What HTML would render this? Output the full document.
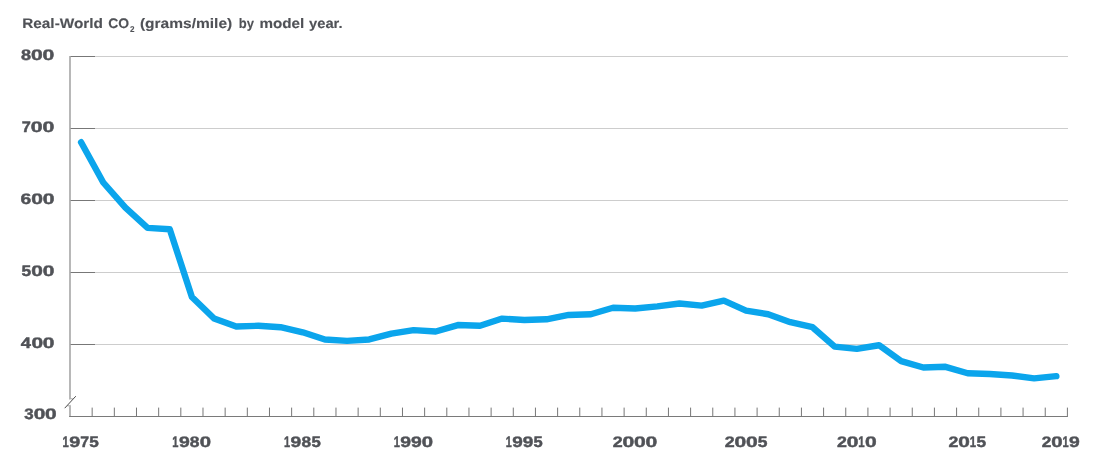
<!DOCTYPE html>
<html><head><meta charset="utf-8"><title>Real-World CO2</title>
<style>
html,body{margin:0;padding:0;background:#fff;}
body{width:1100px;height:471px;overflow:hidden;font-family:"Liberation Sans",sans-serif;}
svg{display:block;will-change:transform;}
.lab{font-family:"Liberation Sans",sans-serif;font-weight:bold;font-size:15.2px;text-rendering:geometricPrecision;fill:#505257;stroke:#505257;stroke-width:0.45;stroke-linejoin:round;}
.title{font-family:"Liberation Sans",sans-serif;font-weight:bold;font-size:13.8px;text-rendering:geometricPrecision;fill:#505257;stroke:#505257;stroke-width:0.12;}
</style></head><body>
<svg width="1100" height="471" viewBox="0 0 1100 471">
<rect width="1100" height="471" fill="#fff"/>
<text y="28" class="title"><tspan x="22.20" y="28" textLength="80.80" lengthAdjust="spacingAndGlyphs">Real-World</tspan> <tspan x="108.20" y="28" textLength="20.90" lengthAdjust="spacingAndGlyphs">CO</tspan><tspan x="129.90" y="32" style="font-size:8.4px" textLength="4.50" lengthAdjust="spacingAndGlyphs">2</tspan> <tspan x="139.90" y="28" textLength="92.30" lengthAdjust="spacingAndGlyphs">(grams/mile)</tspan> <tspan x="238.70" y="28" textLength="15.20" lengthAdjust="spacingAndGlyphs">by</tspan> <tspan x="259.40" y="28" textLength="44.80" lengthAdjust="spacingAndGlyphs">model</tspan> <tspan x="309.00" y="28" textLength="33.60" lengthAdjust="spacingAndGlyphs">year.</tspan></text>

<line x1="70.0" y1="56.5" x2="1068.0" y2="56.5" stroke="#cdcdcd" stroke-width="1"/>
<line x1="70.0" y1="56.5" x2="95.0" y2="56.5" stroke="#777" stroke-width="1"/>
<line x1="70.0" y1="128.5" x2="1068.0" y2="128.5" stroke="#cdcdcd" stroke-width="1"/>
<line x1="70.0" y1="128.5" x2="95.0" y2="128.5" stroke="#777" stroke-width="1"/>
<line x1="70.0" y1="200.5" x2="1068.0" y2="200.5" stroke="#cdcdcd" stroke-width="1"/>
<line x1="70.0" y1="200.5" x2="95.0" y2="200.5" stroke="#777" stroke-width="1"/>
<line x1="70.0" y1="272.5" x2="1068.0" y2="272.5" stroke="#cdcdcd" stroke-width="1"/>
<line x1="70.0" y1="272.5" x2="95.0" y2="272.5" stroke="#777" stroke-width="1"/>
<line x1="70.0" y1="344.5" x2="1068.0" y2="344.5" stroke="#cdcdcd" stroke-width="1"/>
<line x1="70.0" y1="344.5" x2="95.0" y2="344.5" stroke="#777" stroke-width="1"/>

<line x1="70.0" y1="56" x2="70.0" y2="417" stroke="#a6a6a6" stroke-width="1.6"/>
<line x1="69.2" y1="416.5" x2="1067.9" y2="416.5" stroke="#7a7a7a" stroke-width="1"/>
<line x1="92.16" y1="407.6" x2="92.16" y2="416.5" stroke="#777" stroke-width="1"/>
<line x1="114.33" y1="407.6" x2="114.33" y2="416.5" stroke="#777" stroke-width="1"/>
<line x1="136.49" y1="407.6" x2="136.49" y2="416.5" stroke="#777" stroke-width="1"/>
<line x1="158.66" y1="407.6" x2="158.66" y2="416.5" stroke="#777" stroke-width="1"/>
<line x1="180.82" y1="407.6" x2="180.82" y2="416.5" stroke="#777" stroke-width="1"/>
<line x1="202.99" y1="407.6" x2="202.99" y2="416.5" stroke="#777" stroke-width="1"/>
<line x1="225.15" y1="407.6" x2="225.15" y2="416.5" stroke="#777" stroke-width="1"/>
<line x1="247.32" y1="407.6" x2="247.32" y2="416.5" stroke="#777" stroke-width="1"/>
<line x1="269.48" y1="407.6" x2="269.48" y2="416.5" stroke="#777" stroke-width="1"/>
<line x1="291.64" y1="407.6" x2="291.64" y2="416.5" stroke="#777" stroke-width="1"/>
<line x1="313.81" y1="407.6" x2="313.81" y2="416.5" stroke="#777" stroke-width="1"/>
<line x1="335.97" y1="407.6" x2="335.97" y2="416.5" stroke="#777" stroke-width="1"/>
<line x1="358.14" y1="407.6" x2="358.14" y2="416.5" stroke="#777" stroke-width="1"/>
<line x1="380.30" y1="407.6" x2="380.30" y2="416.5" stroke="#777" stroke-width="1"/>
<line x1="402.47" y1="407.6" x2="402.47" y2="416.5" stroke="#777" stroke-width="1"/>
<line x1="424.63" y1="407.6" x2="424.63" y2="416.5" stroke="#777" stroke-width="1"/>
<line x1="446.80" y1="407.6" x2="446.80" y2="416.5" stroke="#777" stroke-width="1"/>
<line x1="468.96" y1="407.6" x2="468.96" y2="416.5" stroke="#777" stroke-width="1"/>
<line x1="491.12" y1="407.6" x2="491.12" y2="416.5" stroke="#777" stroke-width="1"/>
<line x1="513.29" y1="407.6" x2="513.29" y2="416.5" stroke="#777" stroke-width="1"/>
<line x1="535.45" y1="407.6" x2="535.45" y2="416.5" stroke="#777" stroke-width="1"/>
<line x1="557.62" y1="407.6" x2="557.62" y2="416.5" stroke="#777" stroke-width="1"/>
<line x1="579.78" y1="407.6" x2="579.78" y2="416.5" stroke="#777" stroke-width="1"/>
<line x1="601.95" y1="407.6" x2="601.95" y2="416.5" stroke="#777" stroke-width="1"/>
<line x1="624.11" y1="407.6" x2="624.11" y2="416.5" stroke="#777" stroke-width="1"/>
<line x1="646.28" y1="407.6" x2="646.28" y2="416.5" stroke="#777" stroke-width="1"/>
<line x1="668.44" y1="407.6" x2="668.44" y2="416.5" stroke="#777" stroke-width="1"/>
<line x1="690.60" y1="407.6" x2="690.60" y2="416.5" stroke="#777" stroke-width="1"/>
<line x1="712.77" y1="407.6" x2="712.77" y2="416.5" stroke="#777" stroke-width="1"/>
<line x1="734.93" y1="407.6" x2="734.93" y2="416.5" stroke="#777" stroke-width="1"/>
<line x1="757.10" y1="407.6" x2="757.10" y2="416.5" stroke="#777" stroke-width="1"/>
<line x1="779.26" y1="407.6" x2="779.26" y2="416.5" stroke="#777" stroke-width="1"/>
<line x1="801.43" y1="407.6" x2="801.43" y2="416.5" stroke="#777" stroke-width="1"/>
<line x1="823.59" y1="407.6" x2="823.59" y2="416.5" stroke="#777" stroke-width="1"/>
<line x1="845.76" y1="407.6" x2="845.76" y2="416.5" stroke="#777" stroke-width="1"/>
<line x1="867.92" y1="407.6" x2="867.92" y2="416.5" stroke="#777" stroke-width="1"/>
<line x1="890.08" y1="407.6" x2="890.08" y2="416.5" stroke="#777" stroke-width="1"/>
<line x1="912.25" y1="407.6" x2="912.25" y2="416.5" stroke="#777" stroke-width="1"/>
<line x1="934.41" y1="407.6" x2="934.41" y2="416.5" stroke="#777" stroke-width="1"/>
<line x1="956.58" y1="407.6" x2="956.58" y2="416.5" stroke="#777" stroke-width="1"/>
<line x1="978.74" y1="407.6" x2="978.74" y2="416.5" stroke="#777" stroke-width="1"/>
<line x1="1000.91" y1="407.6" x2="1000.91" y2="416.5" stroke="#777" stroke-width="1"/>
<line x1="1023.07" y1="407.6" x2="1023.07" y2="416.5" stroke="#777" stroke-width="1"/>
<line x1="1045.24" y1="407.6" x2="1045.24" y2="416.5" stroke="#777" stroke-width="1"/>
<line x1="1067.40" y1="407.6" x2="1067.40" y2="416.5" stroke="#777" stroke-width="1"/>

<line x1="66.3" y1="406.3" x2="73.8" y2="398.3" stroke="#fff" stroke-width="4.6"/>
<line x1="70" y1="398.8" x2="72.8" y2="398.8" stroke="#a4a4a4" stroke-width="1"/>
<line x1="67.3" y1="405.8" x2="70" y2="405.8" stroke="#a4a4a4" stroke-width="1"/>
<line x1="64.7" y1="408.2" x2="75.8" y2="396.2" stroke="#4a4a4a" stroke-width="1"/>
<polyline points="81.08,142.18 103.25,182.50 125.41,207.70 147.58,227.86 169.74,229.30 191.90,296.98 214.07,318.58 236.23,326.50 258.40,325.78 280.56,327.22 302.73,332.26 324.89,339.46 347.06,340.90 369.22,339.46 391.38,333.70 413.55,330.10 435.71,331.54 457.88,325.06 480.04,325.78 502.21,318.58 524.37,320.02 546.54,319.30 568.70,314.98 590.86,314.26 613.03,307.78 635.19,308.50 657.36,306.34 679.52,303.46 701.69,305.62 723.85,300.58 746.02,310.66 768.18,314.26 790.34,322.18 812.51,327.22 834.67,346.66 856.84,348.82 879.00,345.22 901.17,361.06 923.33,367.54 945.50,366.82 967.66,373.30 989.82,374.02 1011.99,375.46 1034.15,378.34 1056.32,376.18" fill="none" stroke="#0ba5ec" stroke-width="6.4" stroke-linecap="round" stroke-linejoin="round"/>
<g transform="translate(0,-0.45)"><text y="60" class="lab"><tspan x="20.95" textLength="10.05" lengthAdjust="spacingAndGlyphs">8</tspan><tspan x="31.08" textLength="11.75" lengthAdjust="spacingAndGlyphs">0</tspan><tspan x="42.60" textLength="11.75" lengthAdjust="spacingAndGlyphs">0</tspan></text>
<text y="132" class="lab"><tspan x="21.82" textLength="9.08" lengthAdjust="spacingAndGlyphs">7</tspan><tspan x="30.82" textLength="11.83" lengthAdjust="spacingAndGlyphs">0</tspan><tspan x="42.41" textLength="11.83" lengthAdjust="spacingAndGlyphs">0</tspan></text>
<text y="204" class="lab"><tspan x="20.62" textLength="10.70" lengthAdjust="spacingAndGlyphs">6</tspan><tspan x="31.26" textLength="11.71" lengthAdjust="spacingAndGlyphs">0</tspan><tspan x="42.73" textLength="11.71" lengthAdjust="spacingAndGlyphs">0</tspan></text>
<text y="276" class="lab"><tspan x="21.49" textLength="9.65" lengthAdjust="spacingAndGlyphs">5</tspan><tspan x="31.29" textLength="11.63" lengthAdjust="spacingAndGlyphs">0</tspan><tspan x="42.70" textLength="11.63" lengthAdjust="spacingAndGlyphs">0</tspan></text>
<text y="348" class="lab"><tspan x="20.65" textLength="10.22" lengthAdjust="spacingAndGlyphs">4</tspan><tspan x="31.40" textLength="11.63" lengthAdjust="spacingAndGlyphs">0</tspan><tspan x="42.80" textLength="11.63" lengthAdjust="spacingAndGlyphs">0</tspan></text>
<text y="419" class="lab"><tspan x="24.24" textLength="9.41" lengthAdjust="spacingAndGlyphs">3</tspan><tspan x="33.66" textLength="11.60" lengthAdjust="spacingAndGlyphs">0</tspan><tspan x="45.03" textLength="11.60" lengthAdjust="spacingAndGlyphs">0</tspan></text>
</g>
<g transform="translate(0,0.15)"><text y="447" class="lab"><tspan x="62.51" textLength="6.27" lengthAdjust="spacingAndGlyphs">1</tspan><tspan x="69.24" textLength="10.97" lengthAdjust="spacingAndGlyphs">9</tspan><tspan x="80.24" textLength="8.83" lengthAdjust="spacingAndGlyphs">7</tspan><tspan x="89.30" textLength="9.56" lengthAdjust="spacingAndGlyphs">5</tspan></text>
<text y="447" class="lab"><tspan x="172.33" textLength="6.16" lengthAdjust="spacingAndGlyphs">1</tspan><tspan x="178.94" textLength="10.77" lengthAdjust="spacingAndGlyphs">9</tspan><tspan x="189.87" textLength="9.68" lengthAdjust="spacingAndGlyphs">8</tspan><tspan x="199.65" textLength="11.31" lengthAdjust="spacingAndGlyphs">0</tspan></text>
<text y="447" class="lab"><tspan x="284.03" textLength="6.11" lengthAdjust="spacingAndGlyphs">1</tspan><tspan x="290.60" textLength="10.69" lengthAdjust="spacingAndGlyphs">9</tspan><tspan x="301.45" textLength="9.61" lengthAdjust="spacingAndGlyphs">8</tspan><tspan x="311.43" textLength="9.31" lengthAdjust="spacingAndGlyphs">5</tspan></text>
<text y="447" class="lab"><tspan x="393.73" textLength="6.15" lengthAdjust="spacingAndGlyphs">1</tspan><tspan x="400.33" textLength="10.76" lengthAdjust="spacingAndGlyphs">9</tspan><tspan x="411.14" textLength="10.76" lengthAdjust="spacingAndGlyphs">9</tspan><tspan x="421.81" textLength="11.30" lengthAdjust="spacingAndGlyphs">0</tspan></text>
<text y="447" class="lab"><tspan x="505.74" textLength="6.02" lengthAdjust="spacingAndGlyphs">1</tspan><tspan x="512.22" textLength="10.54" lengthAdjust="spacingAndGlyphs">9</tspan><tspan x="522.81" textLength="10.54" lengthAdjust="spacingAndGlyphs">9</tspan><tspan x="533.55" textLength="9.18" lengthAdjust="spacingAndGlyphs">5</tspan></text>
<text y="447" class="lab"><tspan x="612.70" textLength="9.95" lengthAdjust="spacingAndGlyphs">2</tspan><tspan x="622.57" textLength="11.74" lengthAdjust="spacingAndGlyphs">0</tspan><tspan x="634.09" textLength="11.74" lengthAdjust="spacingAndGlyphs">0</tspan><tspan x="645.60" textLength="11.74" lengthAdjust="spacingAndGlyphs">0</tspan></text>
<text y="447" class="lab"><tspan x="724.66" textLength="9.90" lengthAdjust="spacingAndGlyphs">2</tspan><tspan x="734.48" textLength="11.68" lengthAdjust="spacingAndGlyphs">0</tspan><tspan x="745.93" textLength="11.68" lengthAdjust="spacingAndGlyphs">0</tspan><tspan x="757.67" textLength="9.69" lengthAdjust="spacingAndGlyphs">5</tspan></text>
<text y="447" class="lab"><tspan x="836.91" textLength="9.90" lengthAdjust="spacingAndGlyphs">2</tspan><tspan x="846.72" textLength="11.68" lengthAdjust="spacingAndGlyphs">0</tspan><tspan x="858.28" textLength="6.36" lengthAdjust="spacingAndGlyphs">1</tspan><tspan x="864.96" textLength="11.68" lengthAdjust="spacingAndGlyphs">0</tspan></text>
<text y="447" class="lab"><tspan x="948.51" textLength="9.82" lengthAdjust="spacingAndGlyphs">2</tspan><tspan x="958.25" textLength="11.58" lengthAdjust="spacingAndGlyphs">0</tspan><tspan x="969.73" textLength="6.31" lengthAdjust="spacingAndGlyphs">1</tspan><tspan x="976.64" textLength="9.61" lengthAdjust="spacingAndGlyphs">5</tspan></text>
<text y="447" class="lab"><tspan x="1041.73" textLength="9.57" lengthAdjust="spacingAndGlyphs">2</tspan><tspan x="1051.24" textLength="11.30" lengthAdjust="spacingAndGlyphs">0</tspan><tspan x="1062.44" textLength="6.15" lengthAdjust="spacingAndGlyphs">1</tspan><tspan x="1069.04" textLength="10.75" lengthAdjust="spacingAndGlyphs">9</tspan></text>
</g>
</svg>
</body></html>
